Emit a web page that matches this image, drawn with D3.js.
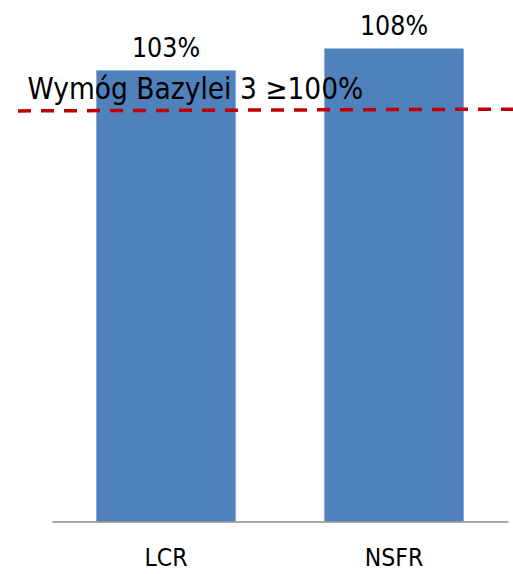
<!DOCTYPE html>
<html>
<head>
<meta charset="utf-8">
<script src="https://cdn.jsdelivr.net/npm/d3@7"></script>
<style>
  html, body { margin: 0; padding: 0; background: #fff; }
  svg { display: block; }
  text { font-family: "DejaVu Sans Condensed", "DejaVu Sans", sans-serif; font-stretch: condensed; fill: #000; }
</style>
</head>
<body>
<svg id="chart" width="513" height="574"></svg>
<script>
const categories = ["LCR", "NSFR"];
const values = [103, 108];
const valueLabels = ["103%", "108%"];
const thresholdLabel = "Wymóg Bazylei 3 ≥100%";
const thresholdLevels = [93.8, 94.2]; // drawn level of the dashed line at left / right end

const W = 513, H = 574;
const svg = d3.select("#chart");

const x = d3.scaleBand().domain(categories).range([52, 508]).paddingInner(0.39).paddingOuter(0.195);
const y = d3.scaleLinear().domain([0, 110]).range([521.5, 40]);

// bars
svg.selectAll("rect.bar").data(values).enter().append("rect")
  .attr("class", "bar")
  .attr("x", (d, i) => x(categories[i]))
  .attr("width", x.bandwidth())
  .attr("y", d => y(d))
  .attr("height", d => y(0) - y(d))
  .attr("fill", "#4F81BD")
  .attr("stroke", "#7FA3D0")
  .attr("stroke-width", 0.6);

// value labels
svg.selectAll("text.val").data(values).enter().append("text")
  .attr("class", "val")
  .attr("x", (d, i) => x(categories[i]) + x.bandwidth() / 2)
  .attr("y", d => y(d) - 14)
  .attr("text-anchor", "middle")
  .style("font-size", "26.5px")
  .text((d, i) => valueLabels[i]);

// axis
const axis = svg.append("g")
  .attr("transform", `translate(0,${y(0)})`)
  .call(d3.axisBottom(x).tickSize(0).tickPadding(27));
axis.select(".domain").attr("stroke", "#8C8C8C").attr("stroke-width", 1.5);
axis.selectAll(".tick text").style("font-size", "24.5px").style("font-family", null).attr("fill", "#000");

// threshold annotation text
svg.append("text")
  .attr("x", 27.5)
  .attr("y", y(thresholdLevels[0]) - 12)
  .style("font-size", "29.5px")
  .text(thresholdLabel);

// dashed threshold line
svg.append("line")
  .attr("x1", 18).attr("x2", W)
  .attr("y1", y(thresholdLevels[0])).attr("y2", y(thresholdLevels[1]))
  .attr("stroke", "#C00000")
  .attr("stroke-width", 3.5)
  .attr("stroke-dasharray", "13,10");
</script>
</body>
</html>
